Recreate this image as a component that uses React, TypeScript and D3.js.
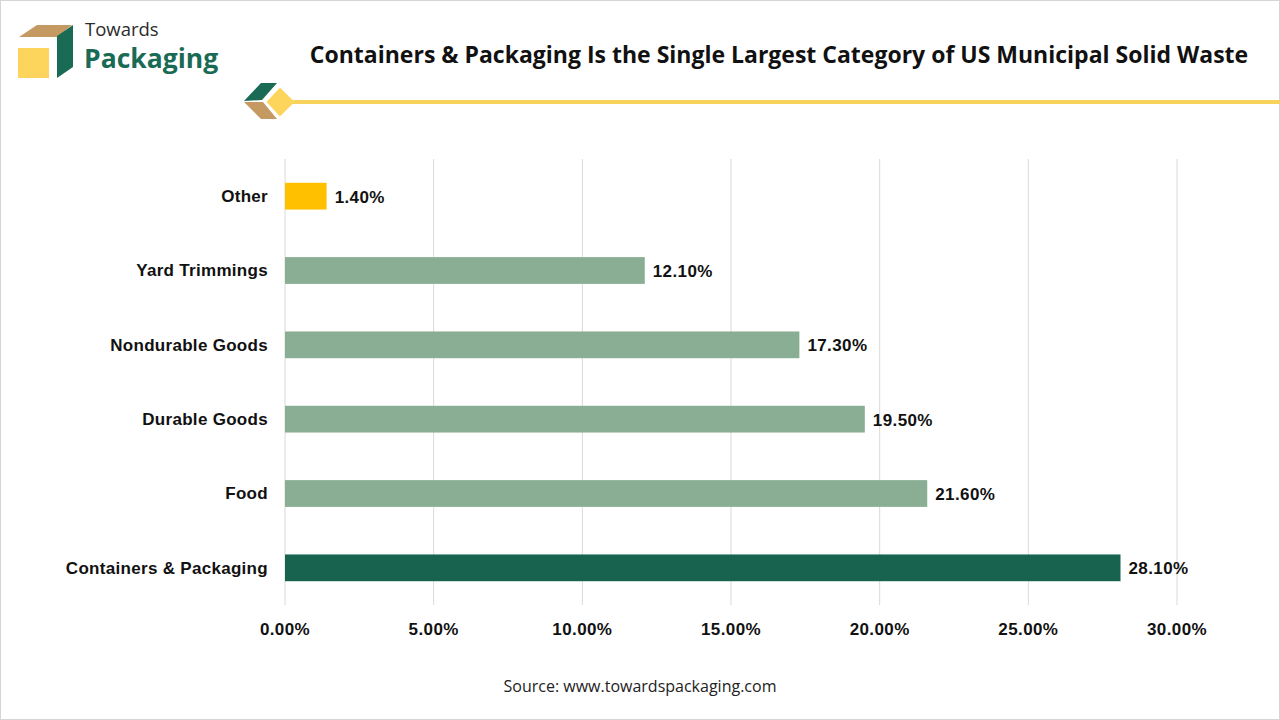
import * as d3 from 'd3';
import React from 'react';

const categories = ["Other", "Yard Trimmings", "Nondurable Goods", "Durable Goods", "Food", "Containers & Packaging"];
const shares = [1.4, 12.1, 17.3, 19.5, 21.6, 28.1];
const barColors = ["#ffc000", "#8aae94", "#8aae94", "#8aae94", "#8aae94", "#17634f"];
const xTicks = [0, 5, 10, 15, 20, 25, 30];

const width = 1280;
const height = 720;
const margin = { top: 159, right: 103, bottom: 115, left: 285 };
const labelFont = "'Liberation Sans', Arial, sans-serif";

function App(): any {
  const xScale = d3
    .scaleLinear()
    .domain([0, 30])
    .range([margin.left, width - margin.right]);

  const yScale = d3
    .scaleBand()
    .domain(categories)
    .range([margin.top, height - margin.bottom])
    .paddingInner(0.64)
    .paddingOuter(0.32);

  const fmt = (v: number): string => v.toFixed(2) + "%";
  const rows = categories.map((c, i) => ({ name: c, value: shares[i], color: barColors[i] }));

  return (
    <svg
      width={width}
      height={height}
      viewBox={"0 0 " + width + " " + height}
      style={{ position: "absolute", left: 0, top: 0, background: "#ffffff" }}
    >
      <rect x={0.5} y={0.5} width={width - 1} height={height - 1} fill="#ffffff" stroke="#d4d4d4" />

      {/* logo */}
      <g>
        <polygon points="19,37 37,25 72,25 57,37" fill="#c49a62" />
        <polygon points="57,36 73,25 73,67 57,78" fill="#1a6b55" />
        <rect x={18} y={48} width={31} height={30} fill="#fdd55c" />
        <text x={85} y={36} fontFamily="'Open Sans', sans-serif" fontSize={18.5} fill="#2b2b2b">Towards</text>
        <text x={84} y={68} fontFamily="'Open Sans', sans-serif" fontWeight={700} fontSize={26.5} fill="#1a6b55">Packaging</text>
      </g>

      <text
        x={779}
        y={63}
        textAnchor="middle"
        fontFamily="'Open Sans', Lato, sans-serif"
        fontWeight={700}
        fontSize={23}
        fill="#111111"
      >
        Containers &amp; Packaging Is the Single Largest Category of US Municipal Solid Waste
      </text>

      {/* decorative divider */}
      <g>
        <line x1={288} x2={1280} y1={102} y2={102} stroke="#f7d35c" strokeWidth={4} />
        <polygon points="244,101 261,83 277,83 262,100" fill="#1a6b55" />
        <polygon points="244,102 263,102 277,119 261,119" fill="#c49a62" />
        <polygon points="268,102 280,89 293,102 280,115" fill="#fdd55c" stroke="#fdd55c" strokeWidth={2} strokeLinejoin="round" />
      </g>

      {/* gridlines */}
      <g>
        {xTicks.map((t) => (
          <line
            key={t}
            x1={xScale(t)}
            x2={xScale(t)}
            y1={margin.top}
            y2={height - margin.bottom}
            stroke="#d9d9d9"
            strokeWidth={1}
          />
        ))}
      </g>

      {/* bars */}
      <g>
        {rows.map((d) => (
          <g key={d.name}>
            <rect
              x={xScale(0)}
              y={yScale(d.name)}
              width={xScale(d.value) - xScale(0)}
              height={yScale.bandwidth()}
              fill={d.color}
            />
            <text
              x={xScale(d.value) + 8}
              y={(yScale(d.name) || 0) + yScale.bandwidth() / 2}
              dy="0.38em"
              fontFamily={labelFont}
              fontWeight={700}
              fontSize={17}
              letterSpacing={0.4}
              fill="#111111"
            >
              {fmt(d.value)}
            </text>
            <text
              x={margin.left - 17}
              y={(yScale(d.name) || 0) + yScale.bandwidth() / 2}
              dy="0.35em"
              textAnchor="end"
              fontFamily={labelFont}
              fontWeight={700}
              fontSize={17}
              letterSpacing={0.3}
              fill="#111111"
            >
              {d.name}
            </text>
          </g>
        ))}
      </g>

      {/* x tick labels */}
      <g>
        {xTicks.map((t) => (
          <text
            key={t}
            x={xScale(t)}
            y={635}
            textAnchor="middle"
            fontFamily={labelFont}
            fontWeight={700}
            fontSize={17}
            letterSpacing={0.4}
            fill="#111111"
          >
            {fmt(t)}
          </text>
        ))}
      </g>

      <text
        x={640}
        y={692}
        textAnchor="middle"
        fontFamily="'Open Sans', sans-serif"
        fontSize={16}
        fill="#222222"
      >
        Source: www.towardspackaging.com
      </text>
    </svg>
  );
}

export default App;
